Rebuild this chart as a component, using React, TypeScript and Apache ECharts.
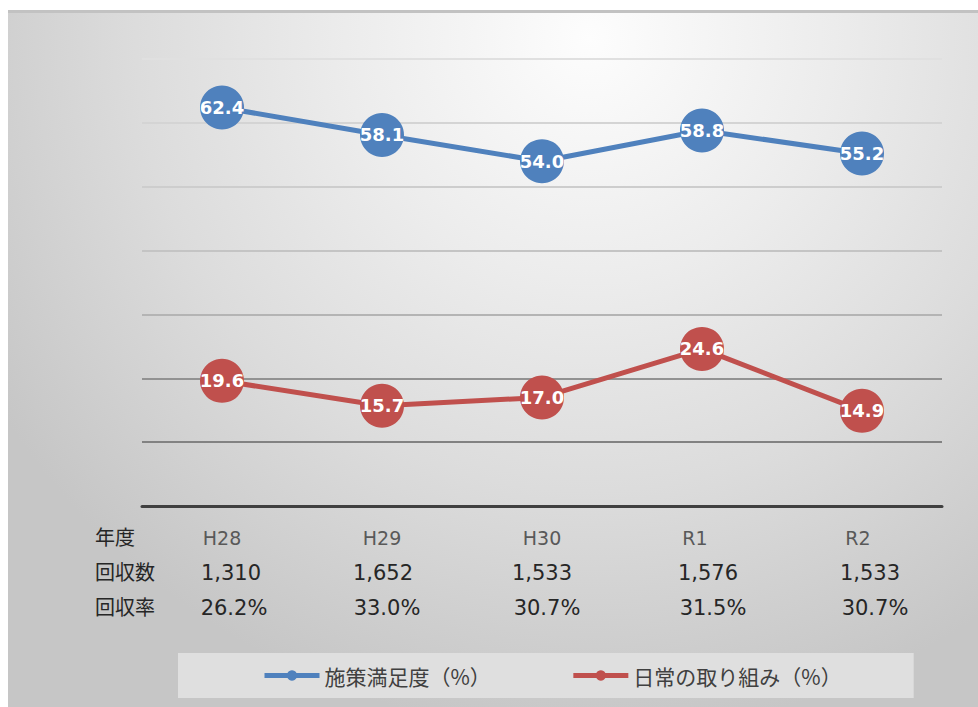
import React, { useEffect, useRef } from "react";
import * as echarts from "echarts";

// ---- data ----
const categories = ["H28", "H29", "H30", "R1", "R2"];
const satisfaction = [62.4, 58.1, 54.0, 58.8, 55.2];
const dailyEfforts = [19.6, 15.7, 17.0, 24.6, 14.9];
const responseCounts = ["1,310", "1,652", "1,533", "1,576", "1,533"];
const responseRates = ["26.2%", "33.0%", "30.7%", "31.5%", "30.7%"];
const rowHeaders = ["年度", "回収数", "回収率"];
const seriesNames = ["施策満足度（%）", "日常の取り組み（%）"];
const yMin = 0;
const yMax = 70;
const yInterval = 10;

// ---- layout tweaks (horizontal nudges of the data-table texts, px) ----
const catShift = [0, 0, 0, -7, -4];
const countShift = [9, 1, 0, 6, 8];
const rateShift = [12, 5, 5, 11, 13];

const BLUE = "#4f81bd";
const RED = "#c0504d";
const CJK = "'Noto Sans CJK JP', sans-serif";
const LATIN = "'DejaVu Sans', sans-serif";

function richFor(shifts: number[], fontSize: number, color: string) {
  const rich: Record<string, any> = {};
  shifts.forEach((s, i) => {
    rich["s" + i] = {
      fontSize,
      fontFamily: LATIN,
      color,
      lineHeight: fontSize + 2,
      padding: s >= 0 ? [0, 0, 0, 2 * s] : [0, -2 * s, 0, 0],
    };
  });
  return rich;
}

const tableAxis = (data: string[], margin: number, shifts: number[], fontSize: number, color: string) => ({
  type: "category",
  data,
  position: "bottom",
  gridIndex: 0,
  boundaryGap: true,
  axisLine: { show: false },
  axisTick: { show: false },
  splitLine: { show: false },
  axisLabel: {
    margin,
    interval: 0,
    formatter: (v: string, i: number) => `{s${i}|${v}}`,
    rich: richFor(shifts, fontSize, color),
  },
});

export default function App() {
  const ref = useRef<HTMLDivElement>(null);

  useEffect(() => {
    if (!ref.current) return;
    const chart = echarts.init(ref.current, undefined, { renderer: "svg" });
    const labelStyle = {
      show: true,
      position: "inside",
      color: "#ffffff",
      fontFamily: LATIN,
      fontWeight: "bold",
      fontSize: 18,
      formatter: (p: any) => Number(p.value).toFixed(1),
    };
    chart.setOption({
      animation: false,
      backgroundColor: "transparent",
      grid: { left: 134, right: 36, top: 49, bottom: 201, containLabel: false },
      legend: {
        left: 170,
        top: 643,
        padding: [12, 72, 12, 84],
        backgroundColor: "#dfdfdf",
        itemWidth: 55,
        itemHeight: 13,
        itemGap: 80,
        lineStyle: { width: 5 },
        textStyle: { fontFamily: CJK, fontSize: 21, color: "#404040" },
        data: seriesNames,
      },
      xAxis: [
        {
          type: "category",
          data: categories,
          position: "bottom",
          boundaryGap: true,
          axisLine: { show: true, lineStyle: { color: "#404040", width: 3 } },
          axisTick: { show: false },
          axisLabel: {
            margin: 21,
            interval: 0,
            formatter: (v: string, i: number) => `{s${i}|${v}}`,
            rich: richFor(catShift, 19, "#595959"),
          },
        },
        tableAxis(responseCounts, 55, countShift, 21, "#262626"),
        tableAxis(responseRates, 90, rateShift, 21, "#262626"),
      ],
      yAxis: {
        type: "value",
        min: yMin,
        max: yMax,
        interval: yInterval,
        axisLine: { show: false },
        axisTick: { show: false },
        axisLabel: { show: false },
        splitLine: {
          show: true,
          lineStyle: {
            width: 2,
            color: ["#404040", "#828282", "#929292", "#b4b4b4", "#c4c4c4", "#cdcdcd", "#d4d4d4", "#e0e0e0"],
          },
        },
      },
      graphic: rowHeaders.map((t, i) => ({
        type: "text",
        left: 87,
        top: [516, 551, 586][i],
        style: { text: t, fontFamily: CJK, fontSize: 20, fill: "#262626" },
      })),
      series: [
        {
          name: seriesNames[0],
          type: "line",
          data: satisfaction,
          symbol: "circle",
          symbolSize: 44,
          lineStyle: { color: BLUE, width: 5 },
          itemStyle: { color: BLUE },
          label: labelStyle,
        },
        {
          name: seriesNames[1],
          type: "line",
          data: dailyEfforts,
          symbol: "circle",
          symbolSize: 44,
          lineStyle: { color: RED, width: 5 },
          itemStyle: { color: RED },
          label: labelStyle,
        },
      ],
    });
    return () => chart.dispose();
  }, []);

  return (
    <div
      style={{
        position: "absolute",
        left: 8,
        top: 10,
        width: 970,
        height: 697,
        background:
          "linear-gradient(#c2c2c2, #c2c2c2) top / 100% 3px no-repeat, radial-gradient(ellipse 72% 100% at 60% 4%, #fdfdfd 0%, #ececec 35%, #dcdcdc 65%, #c6c6c6 100%)",
      }}
    >
      <div ref={ref} style={{ width: 970, height: 697 }} />
    </div>
  );
}
